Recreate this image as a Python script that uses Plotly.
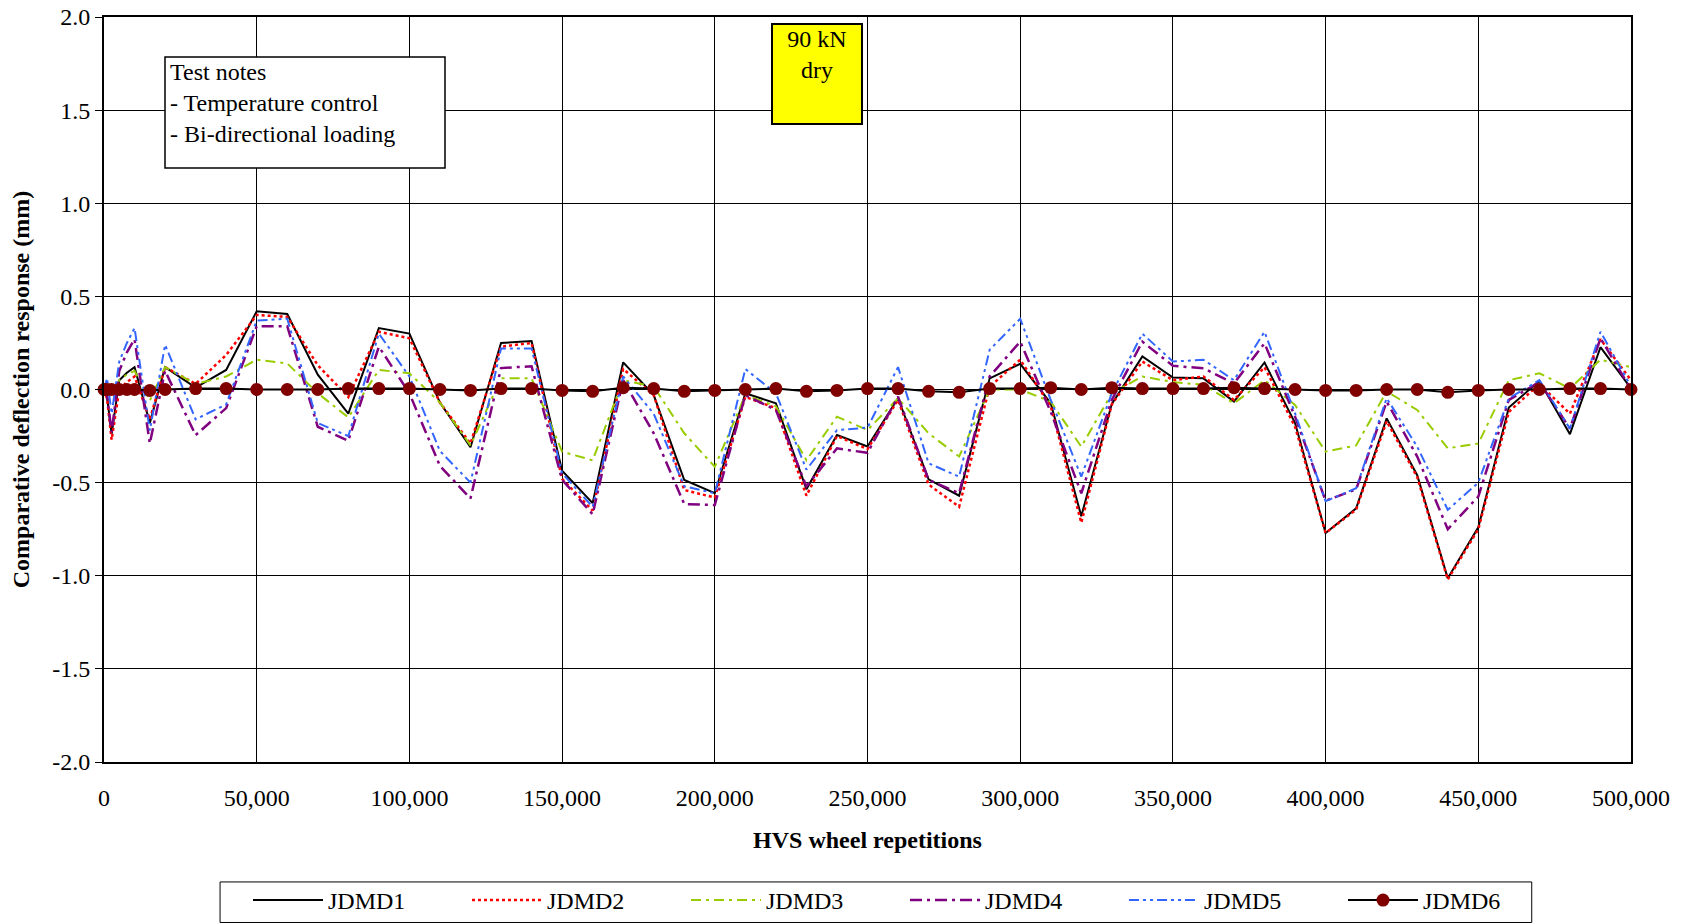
import plotly.graph_objects as go

# HVS repetitions at which readings were taken
reps = [0, 1000, 2500, 5000, 7500, 10000, 15000, 20000] + list(range(30000, 500001, 10000))

jdmd1 = [0.0, -0.04, -0.24, 0.05, 0.09, 0.12, -0.18, 0.12,
         0.01, 0.105, 0.42, 0.405, 0.08, -0.13, 0.33, 0.30, -0.07, -0.31, 0.25, 0.26,
         -0.436, -0.61, 0.146, -0.03, -0.486, -0.557, -0.02, -0.074, -0.535, -0.244,
         -0.306, -0.047, -0.482, -0.57, 0.06, 0.138, -0.074, -0.68, -0.077, 0.177,
         0.064, 0.06, -0.065, 0.145, -0.18, -0.77, -0.638, -0.155, -0.46, -1.014,
         -0.74, -0.097, 0.047, -0.24, 0.227, 0.006]
jdmd2 = [0.0, -0.05, -0.27, 0.0, 0.04, 0.07, -0.16, 0.12,
         0.03, 0.185, 0.40, 0.39, 0.13, -0.04, 0.31, 0.275, -0.07, -0.29, 0.23, 0.25,
         -0.48, -0.65, 0.11, -0.03, -0.54, -0.58, -0.04, -0.10, -0.57, -0.25,
         -0.32, -0.056, -0.51, -0.63, 0.015, 0.16, -0.09, -0.715, -0.08, 0.15,
         0.05, 0.07, -0.056, 0.12, -0.2, -0.77, -0.645, -0.17, -0.47, -1.02,
         -0.75, -0.12, 0.03, -0.13, 0.27, 0.05]
jdmd3 = [0.0, 0.03, -0.02, 0.05, 0.08, 0.10, -0.06, 0.12,
         0.03, 0.07, 0.16, 0.14, -0.02, -0.15, 0.105, 0.087, -0.07, -0.30, 0.06, 0.06,
         -0.334, -0.38, 0.05, 0.016, -0.235, -0.415, -0.03, -0.09, -0.38, -0.146,
         -0.218, -0.047, -0.235, -0.36, 0.0, 0.0, -0.065, -0.307, -0.02, 0.07,
         0.04, 0.025, -0.074, 0.05, -0.083, -0.334, -0.30, -0.01, -0.11, -0.316,
         -0.29, 0.05, 0.087, 0.006, 0.16, 0.12]
jdmd4 = [0.0, -0.03, -0.23, 0.10, 0.20, 0.27, -0.29, 0.10,
         -0.245, -0.10, 0.34, 0.34, -0.20, -0.275, 0.23, -0.02, -0.41, -0.585, 0.115, 0.125,
         -0.485, -0.67, 0.05, -0.235, -0.615, -0.62, -0.03, -0.11, -0.52, -0.316,
         -0.34, -0.038, -0.485, -0.557, 0.07, 0.257, -0.12, -0.557, -0.056, 0.257,
         0.127, 0.114, 0.033, 0.248, -0.146, -0.597, -0.536, -0.065, -0.36, -0.75,
         -0.575, -0.056, 0.04, -0.21, 0.275, 0.0]
jdmd5 = [0.0, 0.06, -0.13, 0.15, 0.25, 0.33, -0.22, 0.24,
         -0.16, -0.08, 0.37, 0.38, -0.18, -0.25, 0.30, 0.07, -0.33, -0.50, 0.22, 0.22,
         -0.45, -0.63, 0.07, -0.13, -0.52, -0.557, 0.11, -0.02, -0.43, -0.218,
         -0.205, 0.12, -0.396, -0.468, 0.213, 0.38, -0.056, -0.468, -0.02, 0.30,
         0.15, 0.16, 0.05, 0.31, -0.128, -0.60, -0.53, -0.047, -0.307, -0.646,
         -0.50, -0.047, 0.05, -0.21, 0.31, 0.016]
jdmd6 = [0.0, 0.0, 0.0, 0.0, 0.0, 0.0, -0.005, 0.0,
         0.005, 0.005, 0.0, 0.0, 0.0, 0.005, 0.005, 0.005, 0.0, -0.005, 0.005, 0.005,
         -0.005, -0.01, 0.01, 0.005, -0.01, -0.005, 0.0, 0.005, -0.01, -0.005,
         0.005, 0.005, -0.01, -0.015, 0.005, 0.005, 0.01, 0.0, 0.01, 0.005,
         0.005, 0.005, 0.01, 0.005, 0.0, -0.005, -0.005, 0.0, 0.0, -0.015,
         -0.005, 0.0, 0.0, 0.005, 0.005, 0.0]

y_ticks = [-2.0, -1.5, -1.0, -0.5, 0.0, 0.5, 1.0, 1.5, 2.0]
y_tick_labels = ['-2.0', '-1.5', '-1.0', '-0.5', '0.0', '0.5', '1.0', '1.5', '2.0']

FONT = 'Liberation Serif, Times New Roman, serif'

series = [
    ('JDMD1', jdmd1, dict(color='#000000', width=2, dash='solid')),
    ('JDMD2', jdmd2, dict(color='#FF0000', width=2.5, dash='3px,3px')),
    ('JDMD3', jdmd3, dict(color='#99CC00', width=2, dash='10px,5px,3px,5px')),
    ('JDMD4', jdmd4, dict(color='#800080', width=2.5, dash='12px,5px,3px,5px')),
    ('JDMD5', jdmd5, dict(color='#3366FF', width=2, dash='10px,4px,3px,4px,3px,4px')),
]

fig = go.Figure()
for name, vals, line in series:
    fig.add_trace(go.Scatter(x=reps, y=vals, name=name, mode='lines', line=line))

fig.add_trace(go.Scatter(
    x=reps, y=jdmd6, name='JDMD6', mode='lines+markers',
    line=dict(color='#000000', width=2),
    marker=dict(color='#800000', size=13),
    cliponaxis=False,
))

fig.update_xaxes(
    range=[0, 500000], tickvals=list(range(0, 500001, 50000)), tickformat=',d',
    showgrid=True, gridcolor='#000000', gridwidth=1,
    showline=True, linecolor='#000000', linewidth=2, mirror=True,
    ticks='', ticklabelstandoff=13, zeroline=False, automargin=False,
    tickfont=dict(family=FONT, size=24, color='#000000'),
    title=dict(text='<b>HVS wheel repetitions</b>', standoff=21,
               font=dict(family=FONT, size=24, color='#000000')),
)
fig.update_yaxes(
    range=[-2, 2], tickvals=y_ticks, ticktext=y_tick_labels,
    showgrid=True, gridcolor='#000000', gridwidth=1,
    showline=True, linecolor='#000000', linewidth=2, mirror=True,
    ticks='outside', ticklen=7, tickcolor='#000000', zeroline=False, automargin=False,
    tickfont=dict(family=FONT, size=24, color='#000000'),
    title=dict(text='<b>Comparative deflection response (mm)</b>', standoff=16,
               font=dict(family=FONT, size=24, color='#000000')),
)

fig.update_layout(
    width=1682, height=924,
    margin=dict(l=104, r=51, t=17, b=162),
    plot_bgcolor='#FFFFFF', paper_bgcolor='#FFFFFF',
    font=dict(family=FONT, size=24, color='#000000'),
    showlegend=True,
    legend=dict(
        orientation='h', xref='container', yref='container',
        x=220 / 1682, y=(924 - 878) / 924, xanchor='left', yanchor='top',
        borderwidth=0, bgcolor='rgba(0,0,0,0)',
        entrywidth=134, itemwidth=70, font=dict(family=FONT, size=24),
        title=dict(text='\u00a0\u00a0\u00a0', side='left', font=dict(family=FONT, size=24)),
    ),
    shapes=[
        # frame round the legend
        dict(type='rect', xref='paper', yref='paper',
             x0=0.076, x1=0.935, y0=-0.2154, y1=-0.161,
             line=dict(color='#000000', width=1), fillcolor='rgba(0,0,0,0)', layer='above'),
        # frame round the test notes
        dict(type='rect', xref='x', yref='y',
             x0=19974, x1=111657, y0=1.189, y1=1.785,
             line=dict(color='#000000', width=1.5), fillcolor='#FFFFFF', layer='above'),
    ],
    annotations=[
        dict(
            text='Test notes<br>- Temperature control<br>- Bi-directional loading',
            xref='x', yref='y', x=21435, y=1.778, xanchor='left', yanchor='top',
            showarrow=False, align='left', valign='top', borderpad=0,
            font=dict(family=FONT, size=24, color='#000000'),
        ),
        dict(
            text='90 kN<br>dry',
            xref='x', yref='y', x=233500, y=1.967, xanchor='center', yanchor='top',
            showarrow=False, align='center', valign='top', width=86, height=96,
            bordercolor='#000000', borderwidth=2, borderpad=1, bgcolor='#FFFF00',
            font=dict(family=FONT, size=24, color='#000000'),
        ),
    ],
)

fig.write_html('out.html', config={'displayModeBar': False},
               post_script="document.body.style.margin='0';")
